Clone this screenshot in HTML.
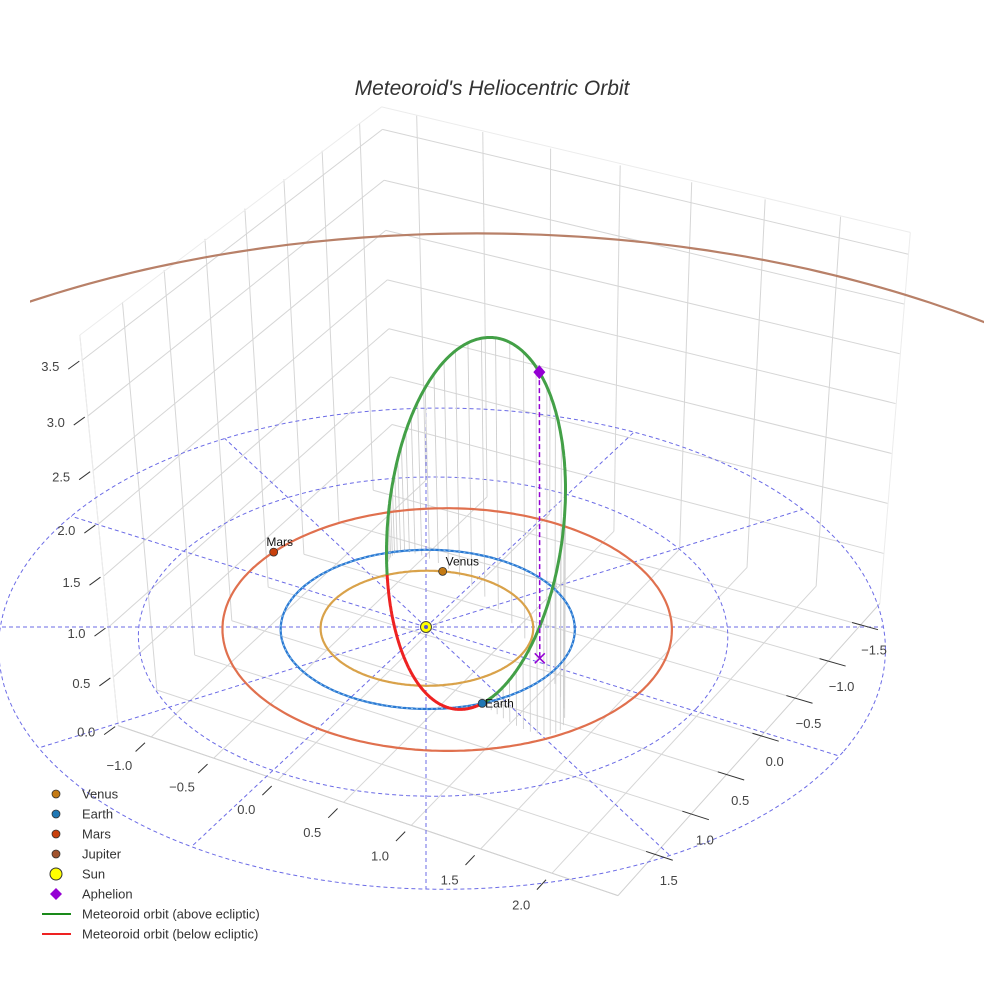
<!DOCTYPE html>
<html><head><meta charset="utf-8"><style>
html,body{margin:0;padding:0;background:#fff;overflow:hidden;}
svg{display:block;font-family:"Liberation Sans",Arial,sans-serif;}
</style></head><body>
<svg id="chart" width="984" height="984" viewBox="0 0 984 984" xmlns="http://www.w3.org/2000/svg">
<defs><clipPath id="plotclip"><rect x="30" y="0" width="954" height="984"/></clipPath></defs>
<rect width="984" height="984" fill="#fff"/>
<g id="walls"></g>
<g id="ecl"></g>
<g id="drops"></g>
<g id="orbits" clip-path="url(#plotclip)"></g>
<g id="met"></g>
<g id="marks"></g>
<g id="axes"></g>
<text x="492" y="95" text-anchor="middle" font-size="21" font-style="italic" fill="#333">Meteoroid's Heliocentric Orbit</text>
<g id="legend"></g>
</svg>
<script>
// ---- data ----
const planetNames = ['Venus','Earth','Mars','Jupiter'];
const orbitRadii = [0.723, 1.0, 1.524, 5.8];
const orbitCenterX = [0, 0, 0.083, 0];
const orbitCenterY = [0, 0, -0.089, 0];
const planetAngles = [250.2, 39.3, 189.3, 110];
const aphelionPos = [0.85, -0.03, 2.8];
const impactPos = [0.775, 0.634, 0.0];
const eclipticRings = [2, 3];
const spokeCount = 12;
const xTicks = [-1.0, -0.5, 0.0, 0.5, 1.0, 1.5, 2.0];
const yTicks = [-1.5, -1.0, -0.5, 0.0, 0.5, 1.0, 1.5, 2.0];
const yTickLabels = [-1.5, -1.0, -0.5, 0.0, 0.5, 1.0, 1.5];
const zTicks = [0.0, 0.5, 1.0, 1.5, 2.0, 2.5, 3.0, 3.5];
const xRange = [-1.27, 2.45];
const yRange = [-1.8, 2.0];
const zRange = [0, 3.72];
const zEcliptic = 0.08;

const NS = 'http://www.w3.org/2000/svg';
const PHI = 29*Math.PI/180, cs = Math.cos(PHI), sn = Math.sin(PHI);
function P(x,y,z){ // z relative to ecliptic
  const u = x*cs - y*sn, w = x*sn + y*cs;
  const base = 1 - 0.03*w - 0.012*u;
  const f0 = 1/base;
  const fx = 1/(base - 0.022*z);
  const fy = 1/(base - z*(0.0125 - 0.00457*u));
  const X = 426 + 147*(u*f0 + (u-0.8)*(fx-f0));
  const Y = 627 + 79.5*w*f0 + (79.5*w*(fy-f0)) - 97.8*z*fy;
  return [X, Y];
}
function PA(x,y,za){ return P(x,y,za - zEcliptic); }
function mk(tag, attrs, parent){
  const e = document.createElementNS(NS, tag);
  for (const k in attrs) e.setAttribute(k, attrs[k]);
  parent.appendChild(e); return e;
}
function pathD(pts){ return pts.map((p,i)=>(i?'L':'M')+p[0].toFixed(1)+' '+p[1].toFixed(1)).join(''); }
function fmt(v){ return (v<0?'\u2212':'') + Math.abs(v).toFixed(1); }

// ---- walls & floor grid ----
const walls = document.getElementById('walls');
function gline(a,b,col,name){
  const e = mk('line',{x1:a[0],y1:a[1],x2:b[0],y2:b[1],stroke:col,'stroke-width':1},walls);
  
  
}
const [x0,x1] = xRange, [y0,y1] = yRange, [zb,zt] = zRange;
xTicks.forEach(x=>{
  gline(PA(x,y0,zb),PA(x,y1,zb),'#d6d6d6','floor-grid-x');
  gline(PA(x,y0,zb),PA(x,y0,zt),'#d6d6d6','back-wall-grid-x');
});
yTicks.forEach(y=>{
  gline(PA(x0,y,zb),PA(x1,y,zb),'#d6d6d6','floor-grid-y');
  gline(PA(x0,y,zb),PA(x0,y,zt),'#d6d6d6','left-wall-grid-y');
});
zTicks.slice(1).forEach(z=>{
  gline(PA(x0,y1,z),PA(x0,y0,z),'#d6d6d6','left-wall-grid-z');
  gline(PA(x0,y0,z),PA(x1,y0,z),'#d6d6d6','back-wall-grid-z');
});
gline(PA(x0,y1,zt),PA(x0,y0,zt),'#ececec','box-top-edge');
gline(PA(x0,y0,zt),PA(x1,y0,zt),'#ececec','box-top-edge');
gline(PA(x1,y0,zb),PA(x1,y0,zt),'#ececec','box-right-edge');
gline(PA(x0,y1,zb),PA(x0,y1,zt),'#ececec','box-left-edge');
gline(PA(x0,y1,zb),PA(x1,y1,zb),'#d0d0d0','box-front-edge');
gline(PA(x1,y1,zb),PA(x1,y0,zb),'#d0d0d0','box-front-edge');

// ---- ecliptic dashed grid ----
const ecl = document.getElementById('ecl');
eclipticRings.forEach(r=>{
  const pts=[]; for(let i=0;i<=240;i++){const t=i/240*2*Math.PI; pts.push(P(r*Math.cos(t),r*Math.sin(t),0));}
  const e = mk('path',{d:pathD(pts),fill:'none',stroke:'#6b6be6','stroke-width':1,'stroke-dasharray':'4,3'},ecl);
  
  
});
const rMax = eclipticRings[eclipticRings.length-1];
for(let k=0;k<spokeCount;k++){
  const a = -PHI + k*2*Math.PI/spokeCount;
  const pts=[]; for(let i=0;i<=20;i++){pts.push(P(rMax*i/20*Math.cos(a), rMax*i/20*Math.sin(a),0));}
  const e = mk('path',{d:pathD(pts),fill:'none',stroke:'#6b6be6','stroke-width':1,'stroke-dasharray':'4,3'},ecl);
  
  
}

// ---- planet orbits ----
const orbitColors = ['#d9a24a','#2a78d2','#e0704e','#b88068'];
const markerColors = ['#c47a14','#1f77b4','#c8400c','#a0522d'];
const orbits = document.getElementById('orbits');
const planetPts = [];
planetNames.forEach((n,i)=>{
  const r=orbitRadii[i], cx=orbitCenterX[i], cy=orbitCenterY[i];
  let pts=[];
  for(let k=0;k<=360;k++){const t=k*Math.PI/180; pts.push(P(cx+r*Math.cos(t),cy+r*Math.sin(t),0));}
  if(n==='Jupiter'){ // only the far arc lies in view
    const segs=[]; let cur=[];
    pts.forEach(p=>{ if(p[1]<420 && p[0]>-60 && p[0]<1044){cur.push(p);} else { if(cur.length>1) segs.push(cur); cur=[]; } });
    if(cur.length>1) segs.push(cur);
    segs.forEach(s=>{
      const e = mk('path',{d:pathD(s),fill:'none',stroke:orbitColors[i],'stroke-width':2.2},orbits);
      
      
    });
    planetPts.push(null);
    return;
  }
  const e = mk('path',{d:pathD(pts),fill:'none',stroke:orbitColors[i],'stroke-width':2.2},orbits);
  
  
  if(n==='Earth'){
    const e2 = mk('path',{d:pathD(pts),fill:'none',stroke:'#8cc4f0','stroke-width':1,'stroke-dasharray':'2,3'},orbits);
    
    
  }
  const t = planetAngles[i]*Math.PI/180;
  planetPts.push(P(cx+r*Math.cos(t), cy+r*Math.sin(t), 0));
});

// ---- meteoroid orbit from aphelion & impact point ----
function norm(v){const l=Math.hypot(...v);return v.map(c=>c/l);}
function dot(a,b){return a[0]*b[0]+a[1]*b[1]+a[2]*b[2];}
const rA = Math.hypot(...aphelionPos);
const uA = norm(aphelionPos);
const Ph = uA.map(c=>-c);
const rE = Math.hypot(...impactPos);
const eH = norm(impactPos);
const cosNuE = dot(eH, Ph);
const ecc = (rA - rE)/(rA + rE*cosNuE);
const pSemi = rA*(1-ecc);
const Wh = norm(eH.map((c,i)=>c - cosNuE*Ph[i]));
function orbitPt(nu){
  const r = pSemi/(1+ecc*Math.cos(nu));
  return [0,1,2].map(i=>r*(Math.cos(nu)*Ph[i]+Math.sin(nu)*Wh[i]));
}
const met = document.getElementById('met');
const drops = document.getElementById('drops');
for(let k=0;k<90;k++){
  const q = orbitPt(k/90*2*Math.PI + 0.02);
  if(q[2] <= 0) continue;
  const a = P(q[0],q[1],q[2]), b = P(q[0],q[1],0);
  const e = mk('line',{x1:a[0],y1:a[1],x2:b[0],y2:b[1],stroke:'#cfcfcf','stroke-width':0.9},drops);
  
  
}
let seg=[], segSign=null;
function flush(){
  if(seg.length>1){
    const e = mk('path',{d:pathD(seg),fill:'none',stroke:segSign>0?'#43a047':'#ee2222','stroke-width':3,'stroke-linejoin':'round'},met);
    
    
  }
}
for(let k=0;k<=720;k++){
  const q = orbitPt(k/720*2*Math.PI);
  const s = q[2]>=0?1:-1;
  const p = P(q[0],q[1],q[2]);
  if(segSign!==null && s!==segSign){ seg.push(p); flush(); seg=[p]; }
  else seg.push(p);
  segSign=s;
}
flush();

// ---- markers ----
const marks = document.getElementById('marks');
const aphTop = P(aphelionPos[0],aphelionPos[1],aphelionPos[2]);
const aphBot = P(aphelionPos[0],aphelionPos[1],0);
let e;
e = mk('line',{x1:aphTop[0],y1:aphTop[1],x2:aphBot[0],y2:aphBot[1],stroke:'#9400d3','stroke-width':1.5,'stroke-dasharray':'5,3'},marks);


e = mk('path',{d:`M${aphBot[0]-5} ${aphBot[1]-5}L${aphBot[0]+5} ${aphBot[1]+5}M${aphBot[0]+5} ${aphBot[1]-5}L${aphBot[0]-5} ${aphBot[1]+5}`,stroke:'#9400d3','stroke-width':1.5},marks);


e = mk('path',{d:`M${aphTop[0]} ${aphTop[1]-7}L${aphTop[0]+6} ${aphTop[1]}L${aphTop[0]} ${aphTop[1]+7}L${aphTop[0]-6} ${aphTop[1]}Z`,fill:'#9400d3'},marks);


const sun = P(0,0,0);
e = mk('circle',{cx:sun[0],cy:sun[1],r:5.5,fill:'#ffff00',stroke:'#444','stroke-width':1},marks);


e = mk('circle',{cx:sun[0],cy:sun[1],r:2,fill:'#5555cc'},marks);


const labelOff = [[3,-6,'start'],[3,1,'start'],[6,-6,'middle']];
planetNames.slice(0,3).forEach((n,i)=>{
  const p = planetPts[i];
  const c = mk('circle',{cx:p[0],cy:p[1],r:4,fill:markerColors[i],stroke:'#333','stroke-width':0.8},marks);
  
  
  const t = mk('text',{x:p[0]+labelOff[i][0],y:p[1]+labelOff[i][1]+(i===1?3:0),'font-size':12,fill:'#111','text-anchor':labelOff[i][2]},marks);
  t.textContent = n;
  
  
});

// ---- axis ticks & labels ----
const axes = document.getElementById('axes');
function tick(a,b,name){
  const t = mk('line',{x1:a[0],y1:a[1],x2:b[0],y2:b[1],stroke:'#333','stroke-width':1},axes);
  
  
}
function lab(p,txt,name){
  const t = mk('text',{x:p[0],y:p[1]+5,'font-size':13,fill:'#444','text-anchor':'middle'},axes);
  t.textContent = txt;
  
  
}
xTicks.forEach(x=>{
  tick(PA(x,y1+0.08,zb),PA(x,y1+0.2,zb),'x-tick');
  const p = PA(x,y1+0.38,zb);
  lab([p[0]-2,p[1]],fmt(x),'x-tick-label');
});
yTickLabels.forEach(y=>{
  const a = PA(x1-0.06,y,zb), b = PA(x1+0.12,y,zb);
  tick(a,b,'y-tick');
  lab([b[0]-4,b[1]+20],fmt(y),'y-tick-label');
});
zTicks.forEach(z=>{
  const E = PA(x0,y1,z);
  tick([E[0]-14,E[1]+9],[E[0]-3,E[1]+1],'z-tick');
  lab([E[0]-32,E[1]+6],fmt(z),'z-tick-label');
});

// ---- legend ----
const legendLabels = ['Venus','Earth','Mars','Jupiter','Sun','Aphelion','Meteoroid orbit (above ecliptic)','Meteoroid orbit (below ecliptic)'];
const legendColors = ['#c47a14','#1f77b4','#c8400c','#a0522d','#ffff00','#9400d3','#1a8a1a','#ee2222'];
const legend = document.getElementById('legend');
legendLabels.forEach((n,i)=>{
  const y = 794 + i*20;
  const g = mk('g',{},legend);
  
  
  let m;
  if(i<4) m = mk('circle',{cx:56,cy:y,r:4,fill:legendColors[i],stroke:'#333','stroke-width':0.8},g);
  else if(i===4) m = mk('circle',{cx:56,cy:y,r:6,fill:legendColors[i],stroke:'#333','stroke-width':1},g);
  else if(i===5) m = mk('path',{d:`M56 ${y-6}L62 ${y}L56 ${y+6}L50 ${y}Z`,fill:legendColors[i]},g);
  else m = mk('line',{x1:42,y1:y,x2:71,y2:y,stroke:legendColors[i],'stroke-width':2},g);
  
  
  const t = mk('text',{x:82,y:y+4.5,'font-size':13,fill:'#333'},g);
  t.textContent = n;
  
  
});
</script>
</body></html>
